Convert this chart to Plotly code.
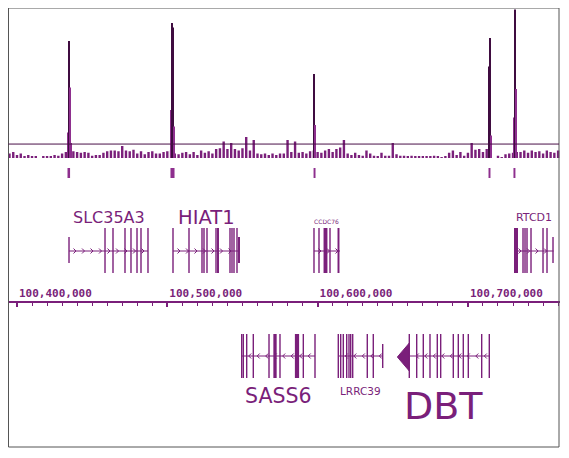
import plotly.graph_objects as go

# The page body adds an 8px margin; the figure itself is the framed box.
W, H = 552, 440
S = 8  # page offset (screen = paper + S)
PURPLE = "#7a1f7a"
DARK = "#3f0c40"
LIGHT = "#8e2f8e"

# ---------------- data ----------------
x_start, x_end = 100394012, 100761260

# background signal (binned)
noise_start = 100395000
noise_step = 2500
noise_vals = [3, 4, 2, 3, 1, 2, 0.8, 1, 0, 1.3, 0.8, 1.3, 2, 1.5, 3, 4,
              5, 4.5, 4, 3.5, 4, 3.5, 1.5, 2, 2, 3.5, 4.5, 5, 5, 4.5, 8, 5, 4.5, 5.5, 3, 4.5, 2.5,
              4, 4.5, 3, 3, 4, 4.5, 5, 3, 2.5, 3.5, 4, 2.5, 4, 2, 5, 3.5, 4.5, 3, 6, 6.5, 11, 6,
              10, 6, 5, 6.5, 14, 5, 12, 3, 2.5, 3, 2, 3, 2, 3,
              3, 12, 4, 11, 3.5, 4, 3, 4.5, 5, 4, 3.5, 5, 6, 4, 6, 7, 12, 3, 2, 3.5, 2, 1.5, 5,
              3, 1.5, 1, 3.5, 1.5, 1.5, 10, 2.5, 1.5, 1.5, 1, 1.5, 0.8, 1,
              0.8, 1, 0.8, 1.5, 1, 0.5, 1, 3.5, 5, 2, 4, 1.5, 3.5, 10, 5.5, 6, 4, 6, 4, 0, 1.5,
              0.5, 2.5, 3, 3.5, 4, 4, 5, 3.5, 5, 4, 4.5, 3, 5, 4, 3.5, 5]

# sharp peaks
peak_pos = [100433930, 100434596, 100435260, 100435926,
            100502456, 100503121, 100503786, 100504452,
            100597594, 100598259,
            100714022, 100714687, 100715352,
            100730654, 100731319, 100731985]
peak_vals = [17, 78, 47, 10,
             32, 90, 87, 21,
             56, 22,
             61, 80, 15,
             27, 99, 46]
threshold = 9.3

# called peak regions
region_start = [100433600, 100502100, 100597300, 100713700, 100730300]
region_end = [100435300, 100504800, 100598600, 100715000, 100731600]

# genomic axis
tick_vals = [100400000, 100500000, 100600000, 100700000]
tick_labels = ["100,400,000", "100,500,000", "100,600,000", "100,700,000"]

# genes
gene_names = ["SLC35A3", "HIAT1", "CCDC76", "RTCD1", "SASS6", "LRRC39", "DBT"]
gene_strand = ["+", "+", "+", "+", "-", "-", "-"]
gene_start = [100434600, 100503790, 100597590, 100730700, 100549490, 100613760, 100653060]
gene_end = [100487150, 100548000, 100614890, 100757000, 100598260, 100643300, 100714220]

exons_SLC35A3 = [100458550, 100463870, 100471850, 100475840, 100479840, 100482500, 100487150]
utr_SLC35A3 = [100434600]
exons_HIAT1 = [100503790, 100514430, 100523080, 100524410, 100526410, 100532400, 100533730,
               100541710, 100543040, 100544370, 100546370]
utr_HIAT1 = [100547700]
exons_CCDC76 = [100597590, 100600920, 100605240, 100608240, 100613890]
utr_CCDC76 = []
exons_RTCD1 = [100731990, 100736650, 100737980, 100739310, 100741970, 100749960, 100752620]
utr_RTCD1 = [100756610]
exons_SASS6 = [100549490, 100550560, 100552820, 100557210, 100567660, 100571650, 100574970,
               100586280, 100590480, 100598260]
utr_SASS6 = []
exons_LRRC39 = [100613760, 100615360, 100617090, 100619350, 100620880, 100622010, 100623340,
                100633050, 100637040]
utr_LRRC39 = [100643300]
exons_DBT = [100661000, 100665920, 100670310, 100674770, 100679620, 100681880, 100690270,
             100693600, 100696920, 100700250, 100709160, 100714220]
utr_DBT = []

# exon lengths (bp) where wider than a line
wide_exons = {100533730: 1300, 100605240: 2600, 100613890: 1300, 100731990: 2700,
              100571650: 2200, 100586280: 2800, 100547700: 1300}

gene_exons = {
    "SLC35A3": (exons_SLC35A3, utr_SLC35A3),
    "HIAT1": (exons_HIAT1, utr_HIAT1),
    "CCDC76": (exons_CCDC76, utr_CCDC76),
    "RTCD1": (exons_RTCD1, utr_RTCD1),
    "SASS6": (exons_SASS6, utr_SASS6),
    "LRRC39": (exons_LRRC39, utr_LRRC39),
    "DBT": (exons_DBT, utr_DBT),
}

# ---------------- styling (screen pixel rows on the overlay axis) ----------------
TRACK = {"+": dict(mid=251, top=228, bot=273, utop=237, ubot=263),
         "-": dict(mid=356, top=334, bot=378, utop=344, ubot=368)}
LABEL = {"SLC35A3": (217, 16), "HIAT1": (217, 19.5), "CCDC76": (221, 6),
         "RTCD1": (217, 11), "SASS6": (396, 20.5), "LRRC39": (391, 10.5),
         "DBT": (406, 38)}
BP_PER_PX = (x_end - x_start) / W
THIN = 1.4 * BP_PER_PX
HIGHLIGHT = "DBT"


def py(screen_y):
    """paper fraction for a screen row"""
    return 1 - (screen_y - S) / H


fig = go.Figure()

# signal bars
noise_pos = [noise_start + noise_step * i for i in range(len(noise_vals))]
fig.add_trace(go.Bar(x=noise_pos, y=noise_vals, width=[1600] * len(noise_vals),
                     marker=dict(color=PURPLE, line=dict(width=0)),
                     xaxis="x", yaxis="y", hoverinfo="skip", showlegend=False))
fig.add_trace(go.Bar(x=peak_pos, y=peak_vals, width=[BP_PER_PX * 1.05] * len(peak_vals),
                     marker=dict(color=[DARK if v >= 50 else LIGHT for v in peak_vals],
                                 line=dict(width=0)),
                     xaxis="x", yaxis="y", hoverinfo="skip", showlegend=False))

shapes = []
# frame
shapes.append(dict(type="rect", xref="paper", yref="paper", x0=0.5 / W, x1=551 / W,
                   y0=py(447), y1=py(8), line=dict(color="#555555", width=1)))
# threshold line
shapes.append(dict(type="line", xref="paper", yref="y", x0=0.5 / W, x1=551 / W,
                   y0=threshold, y1=threshold, line=dict(color="#4a1048", width=1)))
# peak regions
for s, e in zip(region_start, region_end):
    shapes.append(dict(type="rect", xref="x", yref="y2", x0=s, x1=e, y0=168, y1=178,
                       fillcolor=LIGHT, line=dict(width=0)))

# genes
chev_x, chev_y = [], []
for name, strand, gs, ge in zip(gene_names, gene_strand, gene_start, gene_end):
    t = TRACK[strand]
    body_start = gs
    if name == HIGHLIGHT:
        body_start = exons_DBT[0]
    fig.add_trace(go.Scatter(x=[body_start, ge], y=[t["mid"], t["mid"]], mode="lines",
                             line=dict(color=PURPLE, width=1), xaxis="x", yaxis="y2",
                             hoverinfo="skip", showlegend=False))
    exons, utrs = gene_exons[name]
    for c in exons:
        w = wide_exons.get(c, THIN)
        shapes.append(dict(type="rect", xref="x", yref="y2", x0=c - w / 2, x1=c + w / 2,
                           y0=t["top"], y1=t["bot"], fillcolor=PURPLE, line=dict(width=0)))
    for c in utrs:
        w = wide_exons.get(c, THIN)
        shapes.append(dict(type="rect", xref="x", yref="y2", x0=c - w / 2, x1=c + w / 2,
                           y0=t["utop"], y1=t["ubot"], fillcolor=PURPLE, line=dict(width=0)))
    # chevrons
    step = 8.5 * BP_PER_PX
    pos = body_start + 7 * BP_PER_PX
    dx = 2.5 * BP_PER_PX
    while pos < ge - 2 * BP_PER_PX:
        if strand == "+":
            chev_x += [pos - dx, pos, pos - dx, None]
        else:
            chev_x += [pos + dx, pos, pos + dx, None]
        chev_y += [t["mid"] - 2.5, t["mid"], t["mid"] + 2.5, None]
        pos += step
    ly, lsize = LABEL[name]
    fig.add_annotation(x=(gs + ge) / 2, y=ly, xref="x", yref="y2", text=name,
                       showarrow=False, xanchor="center", yanchor="middle",
                       font=dict(family="DejaVu Sans", size=lsize, color=PURPLE))

fig.add_trace(go.Scatter(x=chev_x, y=chev_y, mode="lines", line=dict(color=PURPLE, width=1),
                         xaxis="x", yaxis="y2", hoverinfo="skip", showlegend=False))

# direction arrowhead of highlighted gene
tip = gene_start[gene_names.index(HIGHLIGHT)]
base = exons_DBT[0]
mid = TRACK["-"]["mid"]
fig.add_trace(go.Scatter(x=[tip, base, base, tip], y=[mid + 1, mid - 13, mid + 15, mid + 1],
                         mode="lines", fill="toself", fillcolor=PURPLE,
                         line=dict(color=PURPLE, width=1), xaxis="x", yaxis="y2",
                         hoverinfo="skip", showlegend=False))

fig.update_layout(
    width=W, height=H, margin=dict(l=0, r=0, t=0, b=0),
    paper_bgcolor="white", plot_bgcolor="rgba(0,0,0,0)",
    barmode="overlay", showlegend=False, shapes=shapes,
    xaxis=dict(domain=[0, 1], range=[x_start, x_end], anchor="free",
               position=py(302), side="top", showline=True, linecolor=PURPLE,
               linewidth=2, ticks="inside", ticklen=4, tickwidth=2, tickcolor=PURPLE,
               tickmode="array", tickvals=tick_vals, ticktext=tick_labels,
               ticklabelposition="outside right",
               tickfont=dict(family="DejaVu Sans Mono", size=11, color=PURPLE, weight="bold"),
               showgrid=False, zeroline=False,
               minor=dict(dtick=10000, tick0=100400000, ticks="inside", ticklen=2.5,
                          tickwidth=1, tickcolor=PURPLE, showgrid=False)),
    yaxis=dict(domain=[py(158), py(8)], range=[0, 100], visible=False,
               anchor="x", fixedrange=True),
    yaxis2=dict(domain=[0, 1], range=[H + S, S], visible=False, anchor="x", fixedrange=True),
)

fig.write_html("out.html")
